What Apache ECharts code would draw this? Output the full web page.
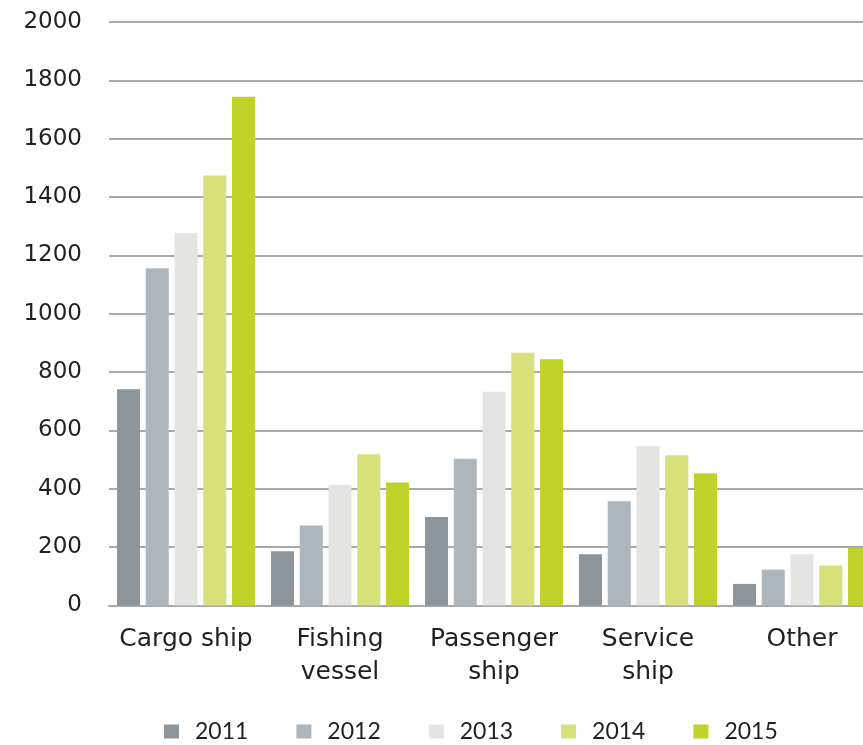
<!DOCTYPE html>
<html>
<head>
<meta charset="utf-8">
<script src="https://cdn.jsdelivr.net/npm/echarts@6/dist/echarts.min.js"></script>
<style>html,body{margin:0;padding:0;background:#fff;overflow:hidden;width:863px;height:745px;}#c{width:880px;height:745px;}</style>
</head>
<body>
<div id="c"></div>
<script>
const categories = ['Cargo ship', 'Fishing\nvessel', 'Passenger\nship', 'Service\nship', 'Other'];
const years = ['2011', '2012', '2013', '2014', '2015'];
const v2011 = [741, 186, 303, 176, 74];
const v2012 = [1156, 274, 503, 357, 123];
const v2013 = [1278, 413, 733, 547, 176];
const v2014 = [1474, 518, 866, 515, 137];
const v2015 = [1744, 422, 844, 453, 198];
const yTicks = {min: 0, max: 2000, interval: 200};
const colors = ['#8b959b', '#aeb6bd', '#e4e4e2', '#d8e07a', '#c1d22b'];
const values = [v2011, v2012, v2013, v2014, v2015];

const chart = echarts.init(document.getElementById('c'), null, {renderer: 'canvas'});
chart.setOption({
  animation: false,
  color: colors,
  grid: {left: 109, top: 22, width: 770, height: 583.5, containLabel: false},
  legend: {
    bottom: 2,
    left: 164,
    padding: 0,
    itemWidth: 15,
    itemHeight: 14,
    itemGap: 48,
    icon: 'rect',
    textStyle: {fontFamily: 'Lato', fontSize: 23, color: '#231f20', padding: [0, 0, 0, 11]},
    data: years
  },
  xAxis: {
    type: 'category',
    data: categories,
    axisLine: {lineStyle: {color: '#a9a9a9', width: 2}},
    axisTick: {show: false},
    axisLabel: {fontFamily: 'DejaVu Sans', fontSize: 25, color: '#231f20', lineHeight: 33, margin: 17, interval: 0}
  },
  yAxis: {
    type: 'value',
    min: yTicks.min, max: yTicks.max, interval: yTicks.interval,
    axisLine: {show: false},
    axisTick: {show: false},
    splitLine: {lineStyle: {color: '#a9a9a9', width: 2}},
    axisLabel: {fontFamily: 'DejaVu Sans', fontSize: 23, color: '#231f20', margin: 27, formatter: v => String(v)}
  },
  series: years.map((y, i) => ({
    name: y,
    type: 'bar',
    data: values[i],
    barWidth: 23,
    barGap: '25%',
    itemStyle: {color: colors[i]}
  }))
});
</script>
</body>
</html>
